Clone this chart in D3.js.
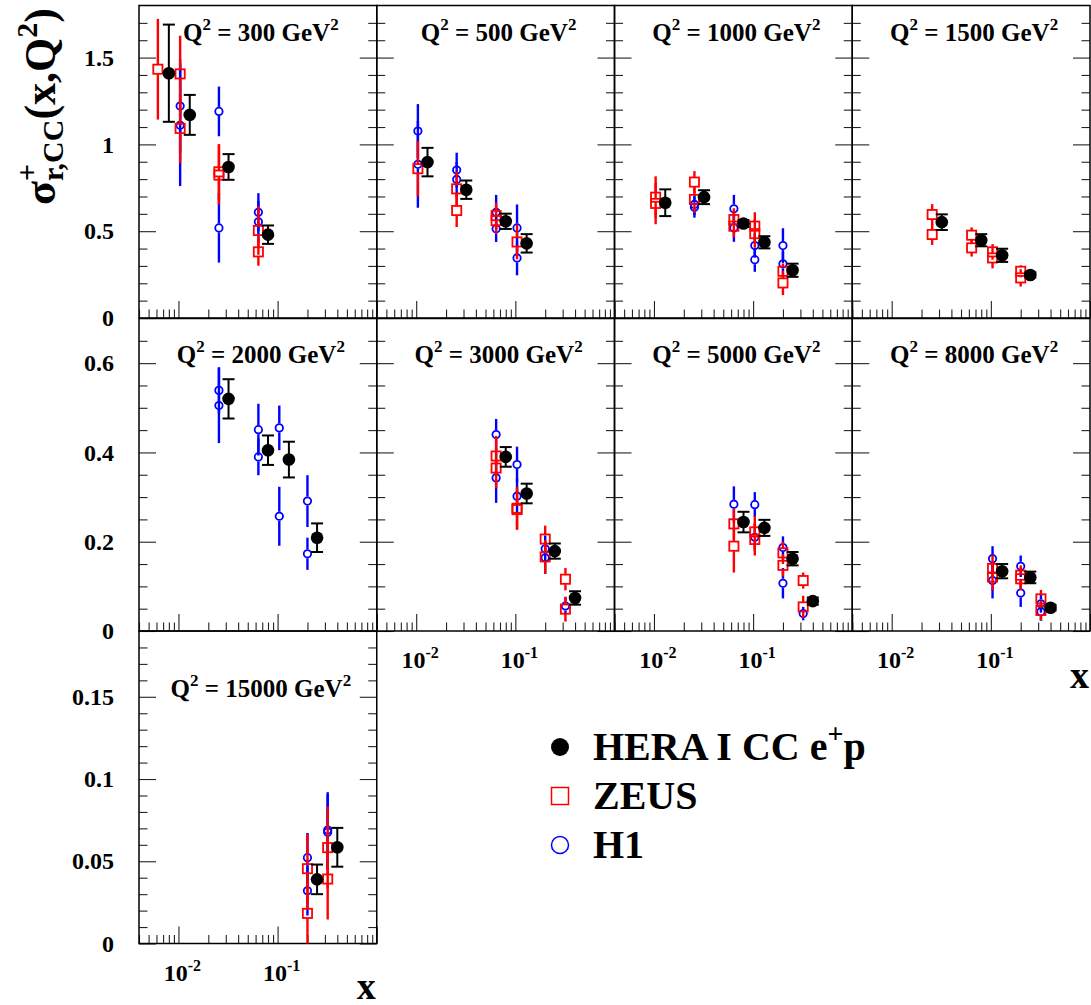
<!DOCTYPE html>
<html><head><meta charset="utf-8">
<script src="https://cdn.jsdelivr.net/npm/d3@7"></script>
<style>
body{margin:0;background:#fff}
svg{display:block}
text{font-family:"Liberation Serif","Times New Roman",serif;font-weight:bold;fill:#000}
</style>
</head><body>
<svg id="chart" width="1091" height="1005"></svg>
<script>
// ---------------- data ----------------
const panelQ2 = [300, 500, 1000, 1500, 2000, 3000, 5000, 8000, 15000];
const rowYMax = [1.8, 0.7, 0.19];
const rowMajorTicks = [[0, 0.5, 1, 1.5], [0, 0.2, 0.4, 0.6], [0, 0.05, 0.1, 0.15]];
const rowTickLabels = [["0", "0.5", "1", "1.5"], ["0", "0.2", "0.4", "0.6"], ["0", "0.05", "0.1", "0.15"]];
const rowMinorStep = [0.1, 0.05, 0.01];
const xDomain = [0.004, 1];
const xMajorTicks = [0.01, 0.1, 1];
const xTickLabels = [["10", "-2"], ["10", "-1"]];
const legendLabels = ["HERA I CC e", "ZEUS", "H1"];

// [Q2, x, sigma, error]
const heraData = [
  [300, 0.008, 1.41, 0.28], [300, 0.013, 1.17, 0.115], [300, 0.032, 0.87, 0.074], [300, 0.08, 0.48, 0.053],
  [500, 0.013, 0.898, 0.082], [500, 0.032, 0.739, 0.053], [500, 0.08, 0.557, 0.044], [500, 0.13, 0.430, 0.053],
  [1000, 0.013, 0.664, 0.077], [1000, 0.032, 0.696, 0.04], [1000, 0.08, 0.544, 0.02], [1000, 0.13, 0.436, 0.035], [1000, 0.25, 0.275, 0.038],
  [1500, 0.032, 0.552, 0.045], [1500, 0.08, 0.448, 0.035], [1500, 0.13, 0.361, 0.038], [1500, 0.25, 0.248, 0.015],
  [2000, 0.032, 0.520, 0.044], [2000, 0.08, 0.405, 0.033], [2000, 0.13, 0.384, 0.04], [2000, 0.25, 0.209, 0.032],
  [3000, 0.08, 0.390, 0.022], [3000, 0.13, 0.308, 0.022], [3000, 0.25, 0.179, 0.017], [3000, 0.4, 0.074, 0.015],
  [5000, 0.08, 0.244, 0.023], [5000, 0.13, 0.231, 0.018], [5000, 0.25, 0.162, 0.015], [5000, 0.4, 0.067, 0.008],
  [8000, 0.13, 0.134, 0.016], [8000, 0.25, 0.120, 0.013], [8000, 0.4, 0.052, 0.006],
  [15000, 0.25, 0.039, 0.009], [15000, 0.4, 0.0585, 0.0118]
];
const zeusData = [
  [300, 0.0062, 1.433, 0.29], [300, 0.0104, 1.406, 0.22], [300, 0.0104, 1.092, 0.2], [300, 0.0256, 0.842, 0.16], [300, 0.0256, 0.823, 0.17], [300, 0.064, 0.504, 0.14], [300, 0.064, 0.381, 0.08],
  [500, 0.0104, 0.86, 0.16], [500, 0.0256, 0.744, 0.1], [500, 0.0256, 0.619, 0.095], [500, 0.064, 0.590, 0.075], [500, 0.064, 0.561, 0.075], [500, 0.104, 0.438, 0.1],
  [1000, 0.0104, 0.696, 0.12], [1000, 0.0104, 0.660, 0.12], [1000, 0.0256, 0.783, 0.063], [1000, 0.0256, 0.683, 0.077], [1000, 0.064, 0.567, 0.065], [1000, 0.064, 0.529, 0.065], [1000, 0.104, 0.529, 0.08], [1000, 0.104, 0.486, 0.08], [1000, 0.2, 0.269, 0.045], [1000, 0.2, 0.202, 0.07],
  [1500, 0.0256, 0.596, 0.06], [1500, 0.0256, 0.481, 0.06], [1500, 0.064, 0.477, 0.045], [1500, 0.064, 0.404, 0.05], [1500, 0.104, 0.381, 0.045], [1500, 0.104, 0.346, 0.06], [1500, 0.2, 0.269, 0.035], [1500, 0.2, 0.231, 0.05],
  [3000, 0.064, 0.392, 0.045], [3000, 0.064, 0.365, 0.045], [3000, 0.104, 0.275, 0.048], [3000, 0.104, 0.272, 0.045], [3000, 0.2, 0.206, 0.03], [3000, 0.2, 0.166, 0.038], [3000, 0.32, 0.116, 0.025], [3000, 0.32, 0.049, 0.028],
  [5000, 0.064, 0.240, 0.034], [5000, 0.064, 0.190, 0.059], [5000, 0.104, 0.222, 0.036], [5000, 0.104, 0.205, 0.036], [5000, 0.2, 0.175, 0.025], [5000, 0.2, 0.147, 0.025], [5000, 0.32, 0.113, 0.018], [5000, 0.32, 0.054, 0.025],
  [8000, 0.104, 0.14, 0.03], [8000, 0.104, 0.121, 0.03], [8000, 0.2, 0.125, 0.022], [8000, 0.2, 0.117, 0.025], [8000, 0.32, 0.072, 0.02], [8000, 0.32, 0.046, 0.022],
  [15000, 0.2, 0.0455, 0.021], [15000, 0.2, 0.0183, 0.02], [15000, 0.32, 0.0583, 0.025], [15000, 0.32, 0.0392, 0.0246]
];
const h1Data = [
  [300, 0.0104, 1.221, 0.27], [300, 0.0104, 1.11, 0.35], [300, 0.0256, 1.19, 0.143], [300, 0.0256, 0.519, 0.2], [300, 0.064, 0.609, 0.11], [300, 0.064, 0.554, 0.12],
  [500, 0.0104, 1.077, 0.155], [500, 0.0104, 0.885, 0.25], [500, 0.0256, 0.852, 0.1], [500, 0.0256, 0.798, 0.1], [500, 0.064, 0.609, 0.1], [500, 0.064, 0.514, 0.076], [500, 0.104, 0.519, 0.135], [500, 0.104, 0.346, 0.1],
  [1000, 0.0256, 0.654, 0.06], [1000, 0.0256, 0.638, 0.06], [1000, 0.064, 0.629, 0.08], [1000, 0.064, 0.519, 0.08], [1000, 0.104, 0.417, 0.07], [1000, 0.104, 0.336, 0.07], [1000, 0.2, 0.417, 0.1], [1000, 0.2, 0.312, 0.07],
  [2000, 0.0256, 0.539, 0.052], [2000, 0.0256, 0.505, 0.084], [2000, 0.064, 0.451, 0.058], [2000, 0.064, 0.39, 0.041], [2000, 0.104, 0.455, 0.05], [2000, 0.104, 0.257, 0.066], [2000, 0.2, 0.291, 0.058], [2000, 0.2, 0.173, 0.036],
  [3000, 0.064, 0.44, 0.035], [3000, 0.064, 0.343, 0.056], [3000, 0.104, 0.373, 0.04], [3000, 0.104, 0.302, 0.04], [3000, 0.2, 0.184, 0.03], [3000, 0.2, 0.164, 0.036], [3000, 0.32, 0.056, 0.02],
  [5000, 0.064, 0.284, 0.04], [5000, 0.104, 0.283, 0.028], [5000, 0.104, 0.21, 0.03], [5000, 0.2, 0.187, 0.025], [5000, 0.2, 0.107, 0.034], [5000, 0.32, 0.039, 0.015],
  [8000, 0.104, 0.162, 0.028], [8000, 0.104, 0.113, 0.04], [8000, 0.2, 0.145, 0.024], [8000, 0.2, 0.085, 0.031], [8000, 0.32, 0.061, 0.02], [8000, 0.32, 0.043, 0.02],
  [15000, 0.2, 0.0522, 0.015], [15000, 0.2, 0.032, 0.015], [15000, 0.32, 0.069, 0.023], [15000, 0.32, 0.0677, 0.023]
];

// ---------------- layout ----------------
const svg = d3.select("#chart");
const left0 = 139, panelW = 237.75;
const rowTop = [5.5, 318.5, 631], rowH = 312.5;
const RED = "#ff0000", BLUE = "#0000ff";
const majorLen = 17, minorLen = 8.5;

function panelGeom(i) {
  const row = i < 4 ? 0 : (i < 8 ? 1 : 2);
  const col = i < 8 ? i % 4 : 0;
  return {row, col, x0: left0 + col * panelW, y0: rowTop[row]};
}

panelQ2.forEach((q2, i) => {
  const g = panelGeom(i);
  const x = d3.scaleLog().domain(xDomain).range([0, panelW]);
  const y = d3.scaleLinear().domain([0, rowYMax[g.row]]).range([rowH, 0]);
  const p = svg.append("g").attr("transform", `translate(${g.x0},${g.y0})`);

  const minorY = d3.range(0, rowYMax[g.row] + 1e-9, rowMinorStep[g.row])
    .filter(v => !rowMajorTicks[g.row].some(m => Math.abs(m - v) < 1e-9) && v < rowYMax[g.row] - 1e-9);
  const tickStyle = sel => { sel.select(".domain").remove(); sel.selectAll("line").attr("stroke", "#222").attr("stroke-width", 1.1); };

  p.append("g").call(d3.axisLeft(y).tickValues(minorY).tickSize(-minorLen).tickFormat("")).call(tickStyle);
  p.append("g").attr("transform", `translate(${panelW},0)`)
    .call(d3.axisRight(y).tickValues(minorY).tickSize(-minorLen).tickFormat("")).call(tickStyle);
  const yl = p.append("g").call(d3.axisLeft(y).tickValues(rowMajorTicks[g.row]).tickSize(-majorLen).tickPadding(25)
      .tickFormat((d, k) => g.col === 0 ? rowTickLabels[g.row][k] : "")).call(tickStyle);
  yl.selectAll("text").attr("font-size", 24).attr("font-family", "Liberation Serif").attr("font-weight", "bold").attr("fill", "#000");
  p.append("g").attr("transform", `translate(${panelW},0)`)
    .call(d3.axisRight(y).tickValues(rowMajorTicks[g.row]).tickSize(-majorLen).tickFormat("")).call(tickStyle);

  const allX = x.ticks();
  const minorX = allX.filter(v => !xMajorTicks.some(m => Math.abs(m - v) / m < 1e-6));
  p.append("g").attr("transform", `translate(0,${rowH})`)
    .call(d3.axisBottom(x).tickValues(minorX).tickSize(-minorLen).tickFormat("")).call(tickStyle);
  p.append("g").attr("transform", `translate(0,${rowH})`)
    .call(d3.axisBottom(x).tickValues(xMajorTicks).tickSize(-majorLen).tickFormat("")).call(tickStyle);

  p.append("rect").attr("x", 0).attr("y", 0).attr("width", panelW).attr("height", rowH)
    .attr("fill", "none").attr("stroke", "#000").attr("stroke-width", 1.5);

  const showX = (g.row === 1 && g.col > 0) || g.row === 2;
  if (showX) {
    xTickLabels.forEach((lab, k) => {
      const t = p.append("text").attr("x", x(xMajorTicks[k]) + 4).attr("y", rowH + 37)
        .attr("text-anchor", "middle").attr("font-size", 24);
      t.append("tspan").text(lab[0]);
      t.append("tspan").attr("font-size", 16).attr("dy", -10).text(lab[1]);
    });
  }
  if ((g.row === 1 && g.col === 3) || g.row === 2) {
    p.append("text").attr("x", panelW - 1).attr("y", rowH + (g.row === 2 ? 55 : 57))
      .attr("text-anchor", "end").attr("font-size", 38).text("x");
  }

  const lblY = [35, 44, 66][g.row];
  const t = p.append("text").attr("x", panelW / 2 + 3).attr("y", lblY).attr("text-anchor", "middle").attr("font-size", 25);
  t.append("tspan").text("Q");
  t.append("tspan").attr("font-size", 17).attr("dy", -11).text("2");
  t.append("tspan").attr("dy", 11).text(` = ${q2} GeV`);
  t.append("tspan").attr("font-size", 17).attr("dy", -11).text("2");

  const sel = arr => arr.filter(d => d[0] === q2);
  const clip = v => Math.max(0, Math.min(rowH, v));
  function errLines(data, color, gap, w) {
    data.forEach(d => {
      const cx = x(d[1]), cy = y(d[2]);
      const yt = clip(y(d[2] + d[3])), yb = clip(y(d[2] - d[3]));
      if (yt < cy - gap) p.append("line").attr("x1", cx).attr("x2", cx).attr("y1", yt).attr("y2", cy - gap).attr("stroke", color).attr("stroke-width", w);
      if (yb > cy + gap) p.append("line").attr("x1", cx).attr("x2", cx).attr("y1", cy + gap).attr("y2", yb).attr("stroke", color).attr("stroke-width", w);
    });
  }
  const h1 = sel(h1Data), zeus = sel(zeusData), hera = sel(heraData);
  errLines(h1, BLUE, 4.5, 2.4);
  h1.forEach(d => p.append("circle").attr("cx", x(d[1])).attr("cy", y(d[2])).attr("r", 3.7)
    .attr("fill", "none").attr("stroke", BLUE).attr("stroke-width", 1.8));
  errLines(zeus, RED, 5, 2.4);
  zeus.forEach(d => p.append("rect").attr("x", x(d[1]) - 4.6).attr("y", y(d[2]) - 4.6).attr("width", 9.2).attr("height", 9.2)
    .attr("fill", "none").attr("stroke", RED).attr("stroke-width", 1.8));
  hera.forEach(d => {
    const cx = x(d[1]), yt = y(d[2] + d[3]), yb = y(d[2] - d[3]);
    p.append("line").attr("x1", cx).attr("x2", cx).attr("y1", yt).attr("y2", yb).attr("stroke", "#000").attr("stroke-width", 2);
    [yt, yb].forEach(yy => p.append("line").attr("x1", cx - 6).attr("x2", cx + 6).attr("y1", yy).attr("y2", yy).attr("stroke", "#000").attr("stroke-width", 2));
    p.append("circle").attr("cx", cx).attr("cy", y(d[2])).attr("r", 6.3).attr("fill", "#000");
  });
});

// y-axis title
const yt = svg.append("g").attr("transform", "translate(55,8) rotate(-90)")
  .append("text").attr("text-anchor", "end").attr("font-size", 44);
yt.append("tspan").text("σ");
const plus = yt.append("tspan").attr("font-size", 30).attr("dy", -18).text("+");
const plusW = plus.node().getComputedTextLength();
yt.append("tspan").attr("font-size", 30).attr("dx", -plusW).attr("dy", 26).text("r,CC");
yt.append("tspan").attr("dy", -8).text("(x,Q");
yt.append("tspan").attr("font-size", 30).attr("dy", -18).text("2");
yt.append("tspan").attr("dy", 18).text(")");

// legend
const lg = svg.append("g");
const legY = [747, 796, 845];
lg.append("circle").attr("cx", 560).attr("cy", legY[0]).attr("r", 9).attr("fill", "#000");
lg.append("rect").attr("x", 551.5).attr("y", legY[1] - 8.5).attr("width", 17).attr("height", 17).attr("fill", "none").attr("stroke", RED).attr("stroke-width", 1.5);
lg.append("circle").attr("cx", 560).attr("cy", legY[2]).attr("r", 8.5).attr("fill", "none").attr("stroke", BLUE).attr("stroke-width", 1.5);
legendLabels.forEach((lab, k) => {
  const t = lg.append("text").attr("x", 593).attr("y", legY[k] + 13).attr("font-size", 40);
  t.append("tspan").text(lab);
  if (k === 0) {
    t.append("tspan").attr("font-size", 28).attr("dy", -17).text("+");
    t.append("tspan").attr("dy", 17).text("p");
  }
});
</script>
</body></html>
